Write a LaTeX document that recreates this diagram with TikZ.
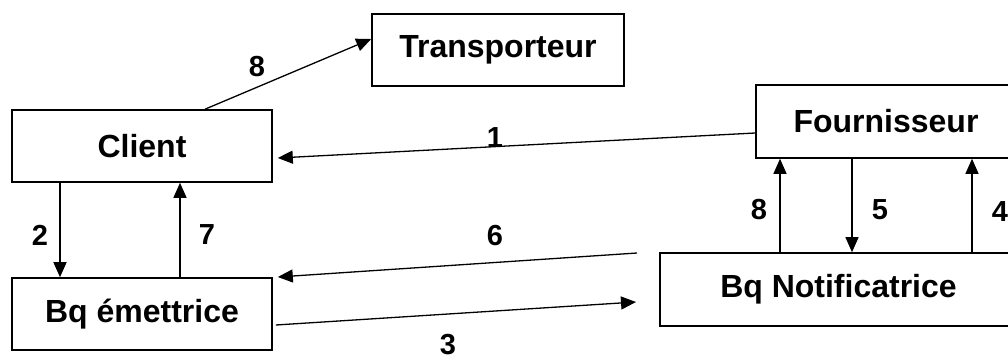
\documentclass[tikz,border=0pt]{standalone}
\usepackage{fontspec}
\setmainfont{Liberation Sans}
\usepackage{tikz}
\usetikzlibrary{arrows.meta,positioning,calc}

\begin{document}
\begin{tikzpicture}[x=1pt,y=-1pt,
 box/.style={rectangle,draw,line width=1.6pt,inner sep=0pt,font=\fontsize{32}{38}\selectfont\bfseries},
 edge/.style={line width=1.3pt,-{Triangle[length=15pt,width=13pt]}},
 num/.style={inner sep=0pt,font=\fontsize{29}{34}\selectfont\bfseries}]
\clip (0,0) rectangle (1008,362);

\node(transp)[box,minimum width=252pt,minimum height=72pt] at (498,50) {Transporteur};
\node(client)[box,minimum width=260pt,minimum height=72pt] at (142,146) {Client};
\node(emet)[box,minimum width=260pt,minimum height=72pt] at (142,314) {Bq émettrice};
\node(fourn)[box,minimum width=260pt,minimum height=73pt] at (886,121.5) {Fournisseur};
\node(notif)[box,minimum width=357pt,minimum height=73pt] at (838.5,289.5) {Bq Notificatrice};

\coordinate (n6) at (637,253);
\coordinate (n3) at (636,302);

\draw [edge] ([xshift=63pt]client.north) to ([yshift=11pt]transp.west);
\draw [edge] ([yshift=-11.5pt]fourn.west) to ([xshift=5pt,yshift=-12pt]client.east);
\draw [edge] ([xshift=-82pt]client.south) to ([xshift=-82pt]emet.north);
\draw [edge] ([xshift=38pt]emet.north) to ([xshift=38pt]client.south);
\draw [edge] (n6) to ([xshift=5pt,yshift=37pt]emet.east);
\draw [edge] ([xshift=3pt,yshift=-11pt]emet.east) to (n3);
\draw [edge] ([xshift=-58.5pt]notif.north) to ([xshift=-106pt]fourn.south);
\draw [edge] ([xshift=-34pt]fourn.south) to ([xshift=13.5pt]notif.north);
\draw [edge] ([xshift=133.5pt]notif.north) to ([xshift=86pt]fourn.south);

\node(l8a)[num] at (257,67) {8};
\node(l1)[num] at (495,138) {1};
\node(l2)[num] at (40,235) {2};
\node(l7)[num] at (207,235) {7};
\node(l6)[num] at (495,236) {6};
\node(l3)[num] at (448,345) {3};
\node(l8b)[num] at (759,210) {8};
\node(l5)[num] at (880,210) {5};
\node(l4)[num] at (1000,212) {4};
\end{tikzpicture}
\end{document}
